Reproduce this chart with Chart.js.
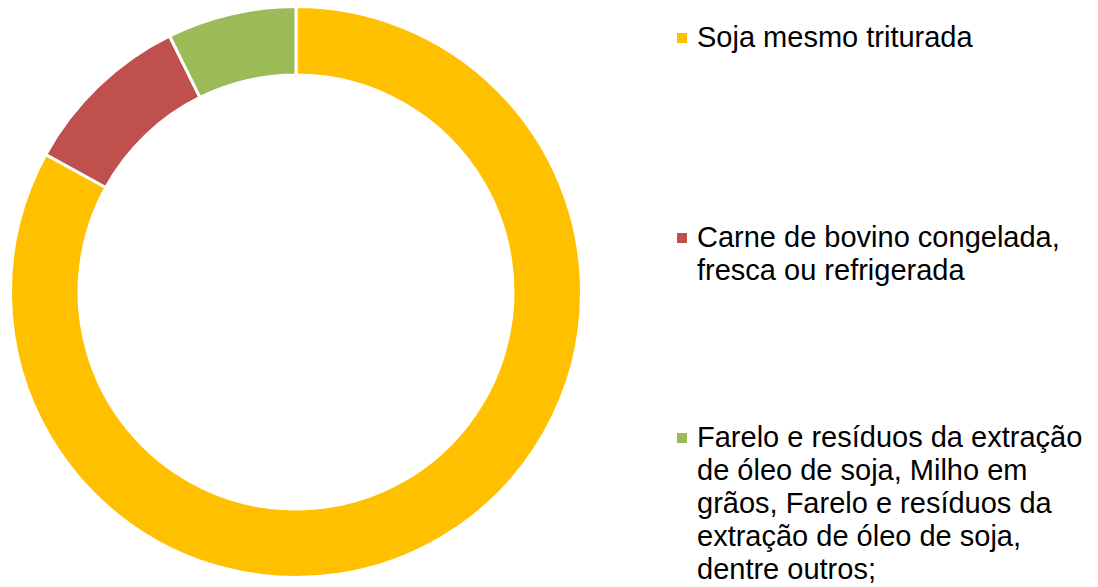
<!DOCTYPE html>
<html lang="pt">
<head>
    <meta charset="UTF-8">
    <title>Exportações</title>
    <script src="https://cdn.jsdelivr.net/npm/chart.js"></script>
    <style>
        * {
            margin: 0;
            padding: 0;
            box-sizing: border-box;
        }

        body {
            background: white;
            width: 1098px;
            height: 587px;
            overflow: hidden;
            position: relative;
            font-family: 'Liberation Sans', Arial, sans-serif;
        }

        .chart-box {
            position: absolute;
            left: 9px;
            top: 5px;
            width: 574px;
            height: 574px;
        }

        .legend {
            position: absolute;
            left: 677px;
            top: 21px;
            display: grid;
            grid-auto-rows: 200px;
        }

        .legend-item {
            position: relative;
            padding-left: 20px;
            font-size: 29px;
            line-height: 33px;
            color: black;
            white-space: nowrap;
        }

        .legend-item .box {
            position: absolute;
            left: 0;
            top: 12px;
            width: 10px;
            height: 10px;
        }
    </style>
</head>
<body>
    <div class="chart-box">
        <canvas id="donut"></canvas>
    </div>
    <div class="legend" id="legend"></div>

    <script>
        // categorias (cada linha do rótulo separada)
        const categories = [
            ['Soja mesmo triturada'],
            ['Carne de bovino congelada,', 'fresca ou refrigerada'],
            ['Farelo e resíduos da extração', 'de óleo de soja, Milho em', 'grãos, Farelo e resíduos da', 'extração de óleo de soja,', 'dentre outros;']
        ];
        // participação (%)
        const shares = [83.0, 9.7, 7.3];
        const colors = ['#FFC000', '#C0504D', '#9BBB59'];

        const donut = new Chart(document.getElementById('donut'), {
            type: 'doughnut',
            data: {
                labels: categories,
                datasets: [{
                    data: shares,
                    backgroundColor: colors,
                    borderColor: 'white',
                    borderWidth: 3
                }]
            },
            options: {
                responsive: true,
                maintainAspectRatio: false,
                animation: false,
                cutout: '76%',
                layout: { padding: 0 },
                plugins: {
                    legend: { display: false },
                    tooltip: { enabled: false }
                }
            }
        });

        // legenda em HTML
        const legend = document.getElementById('legend');
        categories.forEach((lines, i) => {
            const item = document.createElement('div');
            item.className = 'legend-item';
            const box = document.createElement('span');
            box.className = 'box';
            box.style.background = colors[i];
            item.appendChild(box);
            lines.forEach((line, j) => {
                if (j > 0) item.appendChild(document.createElement('br'));
                item.appendChild(document.createTextNode(line));
            });
            legend.appendChild(item);
        });
    </script>
</body>
</html>
